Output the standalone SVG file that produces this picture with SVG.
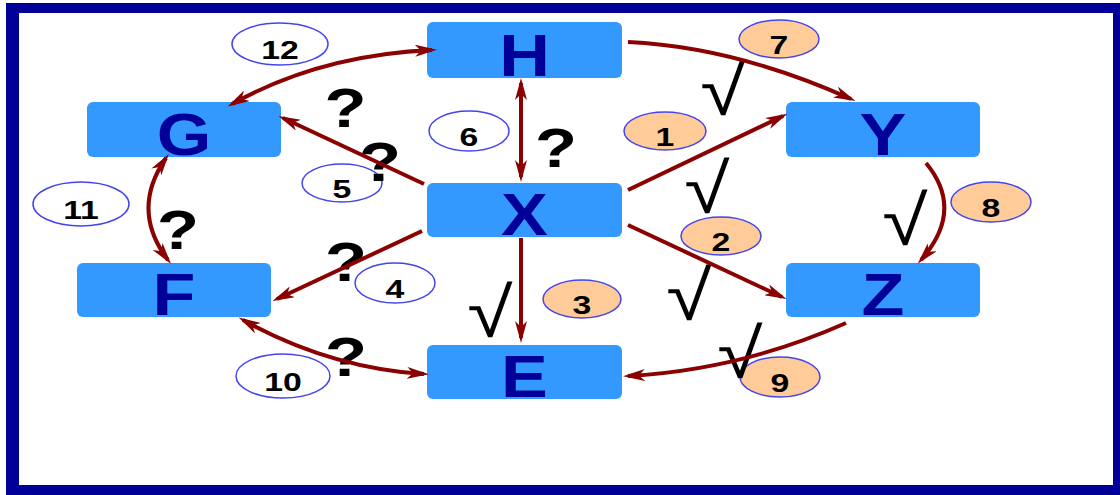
<svg xmlns="http://www.w3.org/2000/svg" width="1120" height="495" viewBox="0 0 1120 495">
<defs>
<marker id="ah" viewBox="0 0 22 12" refX="17" refY="6" markerWidth="22" markerHeight="12" markerUnits="userSpaceOnUse" orient="auto-start-reverse">
<path d="M0,0 L22,6 L0,12 L6,6 Z" fill="#8B0000"/>
</marker>
</defs>
<style>
.box{fill:#3399FF;}
.let{font-family:"Liberation Sans",Arial,sans-serif;font-weight:bold;font-size:60px;fill:#000099;text-anchor:middle;}
.ew{fill:#FFFFFF;stroke:#4444EE;stroke-width:1.5;}
.ep{fill:#FFCC99;stroke:#4444EE;stroke-width:1.5;}
.num{font-family:"Liberation Sans",Arial,sans-serif;font-weight:bold;font-size:25px;fill:#000000;text-anchor:middle;}
.q{font-family:"Liberation Sans",Arial,sans-serif;font-weight:bold;font-size:55px;fill:#000000;text-anchor:middle;}
.ck{font-family:"Liberation Sans",Arial,sans-serif;font-size:70px;fill:#000000;text-anchor:middle;}
.cn{fill:none;stroke:#8B0000;stroke-width:4;}
</style>
<rect x="6" y="3" width="1114" height="492" fill="#000099"/>
<rect x="19" y="13" width="1094" height="472" fill="#FFFFFF"/>

<g id="node-H"><rect class="box" x="427" y="22" width="195" height="56" rx="6"/><text class="let" transform="translate(524.5,76) scale(1.17,1)">H</text></g>
<g id="node-G"><rect class="box" x="87" y="102" width="194" height="55" rx="6"/><text class="let" transform="translate(184,155) scale(1.17,1)">G</text></g>
<g id="node-X"><rect class="box" x="427" y="183" width="195" height="54" rx="6"/><text class="let" transform="translate(524.5,235) scale(1.17,1)">X</text></g>
<g id="node-Y"><rect class="box" x="786" y="102" width="194" height="55" rx="6"/><text class="let" transform="translate(883,155) scale(1.17,1)">Y</text></g>
<g id="node-F"><rect class="box" x="77" y="263" width="194" height="54" rx="6"/><text class="let" transform="translate(174,315) scale(1.17,1)">F</text></g>
<g id="node-Z"><rect class="box" x="786" y="263" width="194" height="54" rx="6"/><text class="let" transform="translate(883,315) scale(1.17,1)">Z</text></g>
<g id="node-E"><rect class="box" x="427" y="345" width="195" height="54" rx="6"/><text class="let" transform="translate(524.5,397) scale(1.17,1)">E</text></g>

<g id="labels">
<g id="lab-12"><ellipse class="ew" cx="280" cy="44" rx="48" ry="21"/><text class="num" transform="translate(280,59) scale(1.35,1)">12</text></g>
<g id="lab-6"><ellipse class="ew" cx="469" cy="131" rx="40" ry="20"/><text class="num" transform="translate(469,146) scale(1.35,1)">6</text></g>
<g id="lab-5"><ellipse class="ew" cx="342" cy="183" rx="40" ry="19"/><text class="num" transform="translate(342,198) scale(1.35,1)">5</text></g>
<g id="lab-11"><ellipse class="ew" cx="81" cy="204" rx="48" ry="22"/><text class="num" transform="translate(81,219) scale(1.35,1)">11</text></g>
<g id="lab-4"><ellipse class="ew" cx="395" cy="283" rx="40" ry="20"/><text class="num" transform="translate(395,298) scale(1.35,1)">4</text></g>
<g id="lab-10"><ellipse class="ew" cx="283" cy="376" rx="47" ry="22"/><text class="num" transform="translate(283,391) scale(1.35,1)">10</text></g>
<g id="lab-7"><ellipse class="ep" cx="779" cy="39" rx="40" ry="19"/><text class="num" transform="translate(779,54) scale(1.35,1)">7</text></g>
<g id="lab-1"><ellipse class="ep" cx="665" cy="131" rx="41" ry="19"/><text class="num" transform="translate(665,146) scale(1.35,1)">1</text></g>
<g id="lab-8"><ellipse class="ep" cx="991" cy="202" rx="40" ry="20"/><text class="num" transform="translate(991,217) scale(1.35,1)">8</text></g>
<g id="lab-2"><ellipse class="ep" cx="721" cy="236" rx="40" ry="19"/><text class="num" transform="translate(721,251) scale(1.35,1)">2</text></g>
<g id="lab-3"><ellipse class="ep" cx="582" cy="299" rx="39" ry="19"/><text class="num" transform="translate(582,314) scale(1.35,1)">3</text></g>
<g id="lab-9"><ellipse class="ep" cx="780" cy="377" rx="40" ry="20"/><text class="num" transform="translate(780,392) scale(1.35,1)">9</text></g>
</g>

<g id="marks">
<text class="q" transform="translate(345.5,127) scale(1.25,1)">?</text>
<text class="q" transform="translate(380,181) scale(1.25,1)">?</text>
<text class="q" transform="translate(556,167) scale(1.25,1)">?</text>
<text class="q" transform="translate(178,249) scale(1.25,1)">?</text>
<text class="q" transform="translate(346,281) scale(1.25,1)">?</text>
<text class="q" transform="translate(346,376) scale(1.25,1)">?</text>
<text class="ck" transform="translate(723,115) scale(1.18,1)">√</text>
<text class="ck" transform="translate(707,213) scale(1.18,1)">√</text>
<text class="ck" transform="translate(905,245) scale(1.18,1)">√</text>
<text class="ck" transform="translate(689,320) scale(1.18,1)">√</text>
<text class="ck" transform="translate(490,337) scale(1.18,1)">√</text>
<text class="ck" transform="translate(740,378) scale(1.18,1)">√</text>
</g>

<g id="connectors">
<path class="cn" d="M232,104 Q320,55 432,50" marker-start="url(#ah)" marker-end="url(#ah)"/>
<path class="cn" d="M521,83 L521,177" marker-start="url(#ah)" marker-end="url(#ah)"/>
<path class="cn" d="M424,184 L283,118" marker-end="url(#ah)"/>
<path class="cn" d="M422,231 L277,299" marker-end="url(#ah)"/>
<path class="cn" d="M166,158 Q130,210 168,260" marker-start="url(#ah)" marker-end="url(#ah)"/>
<path class="cn" d="M243,320 Q330,368 424,374" marker-start="url(#ah)" marker-end="url(#ah)"/>
<path class="cn" d="M521,238 L521,338" marker-end="url(#ah)"/>
<path class="cn" d="M628,42 Q735,47 851,99" marker-end="url(#ah)"/>
<path class="cn" d="M628,190 L783,116" marker-end="url(#ah)"/>
<path class="cn" d="M628,225 L782,297" marker-end="url(#ah)"/>
<path class="cn" d="M926,163 Q965,210 921,260" marker-end="url(#ah)"/>
<path class="cn" d="M846,323 Q740,370 628,376" marker-end="url(#ah)"/>
</g>
</svg>
